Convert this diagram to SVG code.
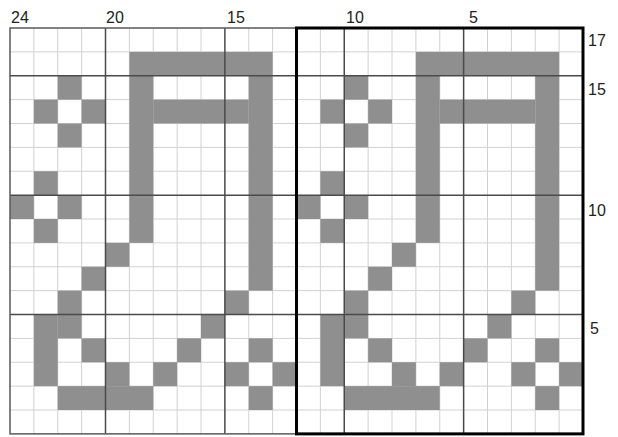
<svg xmlns="http://www.w3.org/2000/svg" xmlns:xlink="http://www.w3.org/1999/xlink" width="618" height="437" viewBox="0 0 618 437">
<style>
.minor{stroke:#d2d2d2;stroke-width:1;fill:none}
.major{stroke:#4a4a4a;stroke-width:1.5;fill:none}
.cell{fill:#8f8f8f}
.lbl{font-family:"Liberation Sans",Arial,sans-serif;font-size:16px;fill:#222}
</style>
<defs>
<g id="motif">
<rect class="cell" x="129.375" y="51.875" width="143.25" height="23.875"/>
<rect class="cell" x="129.375" y="75.75" width="23.875" height="167.125"/>
<rect class="cell" x="248.75" y="75.75" width="23.875" height="214.875"/>
<rect class="cell" x="57.75" y="75.75" width="23.875" height="23.875"/>
<rect class="cell" x="33.875" y="99.625" width="23.875" height="23.875"/>
<rect class="cell" x="81.625" y="99.625" width="23.875" height="23.875"/>
<rect class="cell" x="153.25" y="99.625" width="95.5" height="23.875"/>
<rect class="cell" x="57.75" y="123.5" width="23.875" height="23.875"/>
<rect class="cell" x="33.875" y="171.25" width="23.875" height="23.875"/>
<rect class="cell" x="10" y="195.125" width="23.875" height="23.875"/>
<rect class="cell" x="57.75" y="195.125" width="23.875" height="23.875"/>
<rect class="cell" x="33.875" y="219" width="23.875" height="23.875"/>
<rect class="cell" x="105.5" y="242.875" width="23.875" height="23.875"/>
<rect class="cell" x="81.625" y="266.75" width="23.875" height="23.875"/>
<rect class="cell" x="57.75" y="290.625" width="23.875" height="23.875"/>
<rect class="cell" x="224.875" y="290.625" width="23.875" height="23.875"/>
<rect class="cell" x="33.875" y="314.5" width="23.875" height="71.625"/>
<rect class="cell" x="57.75" y="314.5" width="23.875" height="23.875"/>
<rect class="cell" x="201" y="314.5" width="23.875" height="23.875"/>
<rect class="cell" x="81.625" y="338.375" width="23.875" height="23.875"/>
<rect class="cell" x="177.125" y="338.375" width="23.875" height="23.875"/>
<rect class="cell" x="248.75" y="338.375" width="23.875" height="23.875"/>
<rect class="cell" x="105.5" y="362.25" width="23.875" height="23.875"/>
<rect class="cell" x="153.25" y="362.25" width="23.875" height="23.875"/>
<rect class="cell" x="224.875" y="362.25" width="23.875" height="23.875"/>
<rect class="cell" x="272.625" y="362.25" width="23.875" height="23.875"/>
<rect class="cell" x="57.75" y="386.125" width="95.5" height="23.875"/>
<rect class="cell" x="248.75" y="386.125" width="23.875" height="23.875"/>
</g>
</defs>
<rect width="618" height="437" fill="#fff"/>
<g id="grid-minor">
<path class="minor" d="M33.875 28V433.875M57.75 28V433.875M81.625 28V433.875M129.375 28V433.875M153.25 28V433.875M177.125 28V433.875M201 28V433.875M248.75 28V433.875M272.625 28V433.875M296.5 28V433.875M320.375 28V433.875M368.125 28V433.875M392 28V433.875M415.875 28V433.875M439.75 28V433.875M487.5 28V433.875M511.375 28V433.875M535.25 28V433.875M559.125 28V433.875"/>
<path class="minor" d="M10 51.875H583M10 99.625H583M10 123.5H583M10 147.375H583M10 171.25H583M10 219H583M10 242.875H583M10 266.75H583M10 290.625H583M10 338.375H583M10 362.25H583M10 386.125H583M10 410H583"/>
</g>
<g id="fills">
<use xlink:href="#motif" href="#motif"/>
<use xlink:href="#motif" href="#motif" transform="translate(286.5,0)"/>
</g>
<g id="grid-major">
<path class="major" d="M105.5 28V433.875M224.875 28V433.875M344.25 28V433.875M463.625 28V433.875M10 75.75H583M10 195.125H583M10 314.5H583"/>
<rect x="10" y="28" width="573" height="405.875" fill="none" stroke="#5a5a5a" stroke-width="1.5"/>
<rect x="296.5" y="28" width="286.5" height="405.875" fill="none" stroke="#000" stroke-width="3"/>
</g>
<g id="labels">
<text class="lbl" x="11" y="23">24</text>
<text class="lbl" x="106" y="23">20</text>
<text class="lbl" x="227" y="23">15</text>
<text class="lbl" x="346" y="23">10</text>
<text class="lbl" x="469" y="23">5</text>
<text class="lbl" x="588" y="46">17</text>
<text class="lbl" x="588" y="95">15</text>
<text class="lbl" x="588" y="216">10</text>
<text class="lbl" x="590" y="334">5</text>
</g>
</svg>
